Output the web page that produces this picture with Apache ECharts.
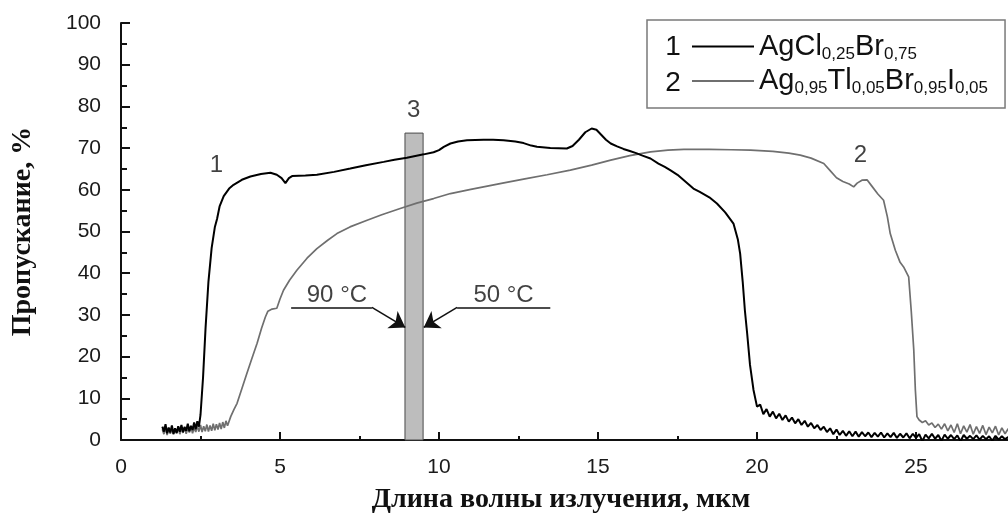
<!DOCTYPE html>
<html>
<head>
<meta charset="utf-8">
<script src="https://cdn.jsdelivr.net/npm/echarts@6/dist/echarts.min.js"></script>
<style>
html,body{margin:0;padding:0;background:#fff;overflow:hidden;}
#chart{width:1008px;height:525px;}
</style>
</head>
<body>
<div id="chart"></div>
<script>
// ---- data ----
var xTicks = [0, 5, 10, 15, 20, 25];
var yTicks = [0, 10, 20, 30, 40, 50, 60, 70, 80, 90, 100];
var seriesNames = ['AgCl0,25Br0,75', 'Ag0,95Tl0,05Br0,95I0,05'];

// curve 1: AgCl0.25Br0.75 (black)
var curve1 = [
[1.30,3.2],[1.35,2.0],[1.40,3.8],[1.45,1.6],[1.50,3.0],[1.55,1.8],[1.60,3.5],[1.65,1.5],[1.70,2.8],[1.75,1.7],
[1.80,3.3],[1.85,2.0],[1.90,3.6],[1.95,1.9],[2.00,3.1],[2.05,2.2],[2.10,3.9],[2.15,2.1],[2.20,3.4],[2.25,2.4],
[2.30,4.2],[2.35,2.6],[2.40,4.5],[2.45,3.2],
[2.50,6.0],[2.58,15],[2.66,27],[2.75,38],[2.85,46],[2.95,51],[3.02,53],[3.10,56],[3.23,58.5],[3.40,60.3],
[3.54,61.2],[3.80,62.4],[4.07,63.2],[4.40,63.8],[4.70,64.1],[4.90,63.6],[5.05,62.8],[5.17,61.6],[5.28,62.8],[5.38,63.3],
[5.80,63.4],[6.16,63.6],[6.70,64.3],[7.21,65.1],[7.70,65.9],[8.26,66.7],[8.60,67.2],[8.99,67.7],[9.52,68.5],[9.83,69.0],
[10.00,69.5],[10.15,70.3],[10.36,71.1],[10.60,71.6],[10.88,71.9],[11.40,72.0],[11.70,72.0],[12.03,71.9],[12.40,71.6],[12.66,71.2],
[12.90,70.6],[13.08,70.3],[13.50,70.0],[14.02,69.9],[14.20,70.5],[14.40,72.0],[14.60,73.8],[14.80,74.7],[14.95,74.4],[15.10,73.2],
[15.25,72.0],[15.40,71.1],[15.60,70.4],[15.80,69.8],[16.00,69.3],[16.20,68.8],[16.40,68.2],[16.65,67.5],[16.90,66.3],[17.10,65.5],
[17.27,64.7],[17.50,63.6],[17.70,62.3],[18.00,60.3],[18.20,59.5],[18.50,58.2],[18.74,56.7],[19.00,54.6],[19.26,51.9],[19.40,48],
[19.47,44.7],[19.55,38],[19.62,31],[19.69,25.6],[19.78,18],[19.89,12.0],[20.00,8.0],
[20.1,8.5],[20.2,6.2],[20.3,7.4],[20.4,5.6],[20.5,6.8],[20.6,5.2],[20.7,6.3],[20.8,4.8],[20.9,5.9],[21.0,4.4],
[21.1,5.4],[21.2,4.0],[21.3,5.0],[21.4,3.6],[21.5,4.6],[21.6,3.2],[21.7,4.1],[21.8,2.8],[21.9,3.6],[22.0,2.4],
[22.1,3.2],[22.2,1.9],[22.3,2.8],[22.4,1.4],[22.5,2.5],[22.6,1.2],[22.7,2.2],[22.8,1.0],[22.9,2.1],[23.0,0.9],
[23.1,2.0],[23.2,0.8],[23.3,1.9],[23.4,0.9],[23.5,1.8],[23.6,0.7],[23.7,1.7],[23.8,0.8],[23.9,1.8],[24.0,0.6],
[24.1,1.6],[24.2,0.7],[24.3,1.7],[24.4,0.5],[24.5,1.5],[24.6,0.6],[24.7,1.6],[24.8,0.4],[24.9,1.5],[25.0,0.5],
[25.1,1.4],[25.2,-0.3],[25.3,1.3],[25.4,0.4],[25.5,1.5],[25.6,0.3],[25.7,1.2],[25.8,-0.2],[25.9,1.3],[26.0,0.3],
[26.1,1.2],[26.2,0.2],[26.3,1.1],[26.4,-0.3],[26.5,1.2],[26.6,0.3],[26.7,1.0],[26.8,0.2],[26.9,1.1],[27.0,0.1],
[27.1,1.0],[27.2,0.2],[27.3,0.9],[27.4,-0.2],[27.5,1.0],[27.6,0.1],[27.7,0.9],[27.8,0.2],[27.9,0.7],[28.0,0.2]
];

// curve 2: Ag0.95Tl0.05Br0.95I0.05 (grey)
var curve2 = [
[1.30,2.6],[1.35,1.4],[1.40,3.0],[1.45,1.2],[1.50,2.7],[1.55,1.5],[1.60,2.9],[1.65,1.3],[1.70,2.5],[1.75,1.6],
[1.80,3.1],[1.85,1.4],[1.90,2.8],[1.95,1.7],[2.00,3.2],[2.05,1.5],[2.10,2.9],[2.15,1.8],[2.20,3.3],[2.25,1.6],
[2.30,3.0],[2.35,1.9],[2.40,3.4],[2.45,2.0],[2.50,3.6],[2.55,1.9],[2.60,3.3],[2.65,2.1],[2.70,3.7],[2.75,2.0],
[2.80,3.5],[2.85,2.2],[2.90,3.9],[2.95,2.3],[3.00,3.8],[3.05,2.5],[3.10,4.1],[3.15,2.6],[3.20,4.3],[3.25,2.9],
[3.30,4.6],[3.35,3.4],
[3.45,5.6],[3.55,7.3],[3.65,8.8],[3.80,12.3],[3.96,16],[4.10,19.2],[4.28,23.2],[4.42,26.8],[4.54,29.5],[4.62,30.9],
[4.75,31.4],[4.90,31.6],[5.00,33.8],[5.11,35.9],[5.30,38.3],[5.53,40.7],[5.85,43.6],[6.16,45.9],[6.50,47.9],[6.79,49.5],
[7.20,51.1],[7.74,52.7],[8.20,54.0],[8.78,55.5],[9.30,56.8],[9.83,57.9],[10.36,59.1],[11.00,60.1],[11.40,60.7],[12.00,61.6],
[12.70,62.6],[13.40,63.6],[14.13,64.7],[14.80,65.9],[15.40,67.1],[16.00,68.2],[16.65,69.1],[17.20,69.5],[17.70,69.7],[18.50,69.7],
[19.20,69.6],[19.80,69.5],[20.50,69.2],[21.00,68.8],[21.36,68.3],[21.70,67.6],[22.10,66.3],[22.30,64.6],[22.50,62.9],[22.70,62.0],
[22.90,61.4],[23.04,60.7],[23.15,61.6],[23.30,62.3],[23.46,62.4],[23.60,61.0],[23.80,59.0],[23.98,57.5],[24.10,53.5],[24.19,49.5],
[24.35,45.5],[24.50,42.6],[24.61,41.5],[24.77,39.1],[24.85,31],[24.93,21.6],[24.98,12],[25.03,5.6],
[25.1,4.8],[25.2,4.2],[25.3,4.6],[25.4,3.6],[25.5,4.1],[25.6,3.0],[25.7,3.8],[25.8,2.6],[25.9,3.9],[26.0,2.2],
[26.1,3.6],[26.2,1.8],[26.3,3.9],[26.4,1.5],[26.5,3.4],[26.6,1.9],[26.7,3.7],[26.8,1.4],[26.9,3.2],[27.0,1.6],
[27.1,3.5],[27.2,1.3],[27.3,3.1],[27.4,1.7],[27.5,3.3],[27.6,1.2],[27.7,2.9],[27.8,1.5],[27.9,2.7],[28.0,1.6]
];

// band 3 (x from, x to, top)
var band = [8.93, 9.50, 73.6];

// text annotations [x, y, text]
var notes = [
  [3.0, 65.9, '1'],
  [23.25, 68.3, '2'],
  [9.2, 79.1, '3'],
  [6.79, 34.7, '90 °C'],
  [12.03, 34.7, '50 °C']
];

// leader lines of the temperature labels: [from, to, hasArrow]
var leaders = [
  [[5.35, 31.8], [7.89, 31.8], false],
  [[7.89, 31.8], [8.94, 27.0], true],
  [[13.5, 31.8], [10.57, 31.8], false],
  [[10.57, 31.8], [9.52, 27.0], true]
];

// ---- chart ----
var SANS = '"Liberation Sans", Arial, sans-serif';
var SERIF = '"Liberation Serif", "Times New Roman", serif';

var richLegend = {
  n: {fontSize: 29, lineHeight: 32, fontFamily: SANS, color: '#111'},
  s: {fontSize: 17, lineHeight: 17, fontFamily: SANS, color: '#111', verticalAlign: 'bottom'}
};
function legendText(name) {
  if (name === seriesNames[0]) {
    return '{n|AgCl}{s|0,25}{n|Br}{s|0,75}';
  }
  return '{n|Ag}{s|0,95}{n|Tl}{s|0,05}{n|Br}{s|0,95}{n|I}{s|0,05}';
}

var chart = echarts.init(document.getElementById('chart'), null, {renderer: 'canvas'});

var option = {
  animation: false,
  backgroundColor: '#ffffff',
  grid: {left: 121, width: 954, top: 23, height: 417, containLabel: false, outerBoundsMode: 'none'},
  xAxis: {
    type: 'value',
    min: 0, max: 30, interval: 5,
    name: 'Длина волны излучения, мкм',
    nameLocation: 'middle',
    nameGap: 46,
    nameTextStyle: {fontFamily: SERIF, fontWeight: 'bold', fontSize: 28, color: '#111', padding: [0, 74, 0, 0]},
    axisLine: {show: true, onZero: false, lineStyle: {color: '#111', width: 2}},
    axisTick: {show: true, inside: true, length: 8, lineStyle: {color: '#111', width: 2}},
    minorTick: {show: true, splitNumber: 2, length: 4, lineStyle: {color: '#111', width: 2}},
    axisLabel: {
      fontFamily: SANS, fontSize: 21, color: '#1a1a1a', margin: 17,
      formatter: function (v) { return xTicks.indexOf(v) >= 0 ? String(v) : ''; }
    },
    splitLine: {show: false}
  },
  yAxis: {
    type: 'value',
    min: 0, max: 100, interval: 10,
    name: 'Пропускание, %',
    nameLocation: 'middle',
    nameGap: 84,
    nameTextStyle: {fontFamily: SERIF, fontWeight: 'bold', fontSize: 28, color: '#111'},
    axisLine: {show: true, lineStyle: {color: '#111', width: 2}},
    axisTick: {show: true, inside: true, length: 9, lineStyle: {color: '#111', width: 2}},
    minorTick: {show: true, splitNumber: 2, length: 6, lineStyle: {color: '#111', width: 2}},
    axisLabel: {
      fontFamily: SANS, fontSize: 21, color: '#1a1a1a', margin: 20,
      formatter: function (v) { return yTicks.indexOf(v) >= 0 ? String(v) : ''; }
    },
    splitLine: {show: false}
  },
  legend: {
    data: seriesNames,
    orient: 'vertical',
    left: 647, top: 20,
    padding: [12, 17, 11, 45],
    itemGap: 4,
    itemWidth: 62, itemHeight: 2,
    icon: 'rect',
    selectedMode: false,
    backgroundColor: '#ffffff',
    borderColor: '#7a7a7a', borderWidth: 1.5,
    formatter: legendText,
    textStyle: {rich: richLegend}
  },
  graphic: [
    {type: 'text', x: 673, y: 47, z: 100, style: {text: '1', fontSize: 28, fontFamily: SANS, fill: '#111', align: 'center', verticalAlign: 'middle'}},
    {type: 'text', x: 673, y: 83, z: 100, style: {text: '2', fontSize: 28, fontFamily: SANS, fill: '#111', align: 'center', verticalAlign: 'middle'}}
  ],
  series: [
    {
      name: seriesNames[1],
      type: 'line',
      data: curve2,
      showSymbol: false, symbol: 'none',
      z: 3,
      lineStyle: {color: '#6f6f6f', width: 1.7},
      itemStyle: {color: '#6f6f6f'},
      markArea: {
        silent: true,
        itemStyle: {color: '#bdbdbd', borderColor: '#4a4a4a', borderWidth: 1},
        label: {show: false},
        data: [[{xAxis: band[0], yAxis: 0}, {xAxis: band[1], yAxis: band[2]}]]
      }
    },
    {
      name: seriesNames[0],
      type: 'line',
      data: curve1,
      showSymbol: false, symbol: 'none',
      z: 4,
      lineStyle: {color: '#000000', width: 2},
      itemStyle: {color: '#000000'}
    },
    {
      name: 'leaders',
      type: 'lines',
      coordinateSystem: 'cartesian2d',
      z: 5,
      silent: true,
      data: leaders.map(function (l) {
        return {
          coords: [l[0], l[1]],
          symbol: l[2] ? ['none', 'arrow'] : ['none', 'none'],
          symbolSize: l[2] ? 15 : 0
        };
      }),
      lineStyle: {color: '#111', width: 1.6, opacity: 1, curveness: 0}
    },
    {
      name: 'notes',
      type: 'scatter',
      symbolSize: 0,
      z: 6,
      silent: true,
      data: notes.map(function (n) { return {value: [n[0], n[1]], name: n[2]}; }),
      label: {
        show: true, position: 'inside',
        formatter: function (p) { return p.name; },
        fontFamily: SANS, fontSize: 24, color: '#111'
      }
    }
  ]
};
chart.setOption(option);
</script>
</body>
</html>
